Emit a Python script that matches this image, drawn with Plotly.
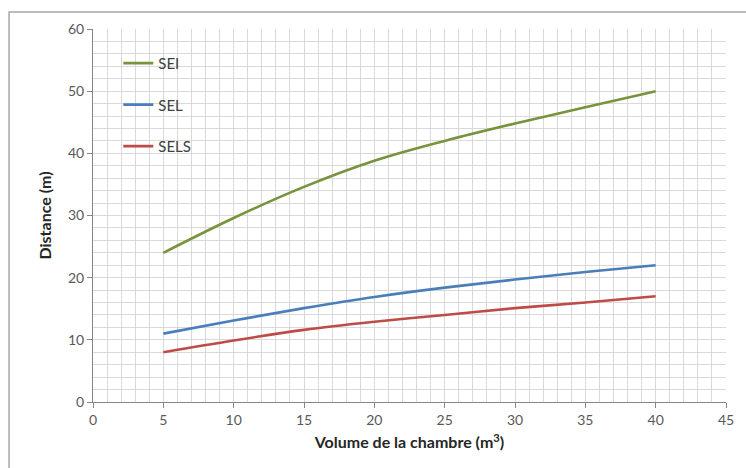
import plotly.graph_objects as go

# Chamber volume (m³) and distances (m) for each criterion
volume = [5, 10, 15, 20, 25, 30, 35, 40]
sei = [24, 29.6, 34.6, 38.8, 42.0, 44.8, 47.4, 50]
sel = [11, 13.1, 15.1, 16.9, 18.4, 19.7, 20.9, 22]
sels = [8, 9.9, 11.6, 12.9, 14.0, 15.1, 16.0, 17]

series = [
    ("SEI", sei, "#77933C"),
    ("SEL", sel, "#4A7EBB"),
    ("SELS", sels, "#BE4B48"),
]

fig = go.Figure()
for i, (name, vals, color) in enumerate(series):
    fig.add_trace(go.Scatter(
        x=volume, y=vals, name=name, mode="lines",
        line=dict(color=color, width=2.6, shape="spline", smoothing=1.0),
        legendgroup=name,
    ))

grid = "#D9D9D9"
axis_line = "#868686"
font = "Lato, 'Open Sans', sans-serif"

fig.update_layout(
    width=746, height=468,
    margin=dict(l=93, r=12, t=29, b=66),
    paper_bgcolor="white", plot_bgcolor="white",
    font=dict(family=font, color="#595959", size=14),
    showlegend=True,
    legend=dict(
        x=0.04, y=0.952, xanchor="left", yanchor="top",
        bgcolor="rgba(0,0,0,0)", font=dict(size=15, color="#404040"),
        traceorder="grouped", tracegroupgap=19, itemwidth=30,
    ),
    xaxis=dict(
        range=[0, 45], dtick=5, tick0=0,
        showgrid=True, gridcolor=grid, gridwidth=1,
        minor=dict(dtick=1, showgrid=True, gridcolor=grid, gridwidth=1),
        showline=True, linecolor=axis_line, linewidth=1,
        ticks="outside", ticklen=5, tickcolor=axis_line,
        zeroline=False,
        title=dict(text="<b>Volume de la chambre (m<sup>3</sup>)</b>",
                   font=dict(size=16, color="#262626"), standoff=10),
    ),
    yaxis=dict(
        range=[0, 60], dtick=10, tick0=0,
        showgrid=True, gridcolor=grid, gridwidth=1,
        minor=dict(dtick=2, showgrid=True, gridcolor=grid, gridwidth=1),
        showline=True, linecolor=axis_line, linewidth=1,
        ticks="outside", ticklen=5, tickcolor=axis_line,
        zeroline=False,
        title=dict(text="<b>Distance (m)</b>",
                   font=dict(size=16, color="#262626"), standoff=12),
    ),
    shapes=[
        dict(type="rect", xref="paper", yref="paper",
             x0=-0.1326, x1=1.2, y0=-0.4, y1=1.0456,
             line=dict(color="#A6A6A6", width=1.5), layer="below"),
    ],
)

fig.write_html("out.html")
